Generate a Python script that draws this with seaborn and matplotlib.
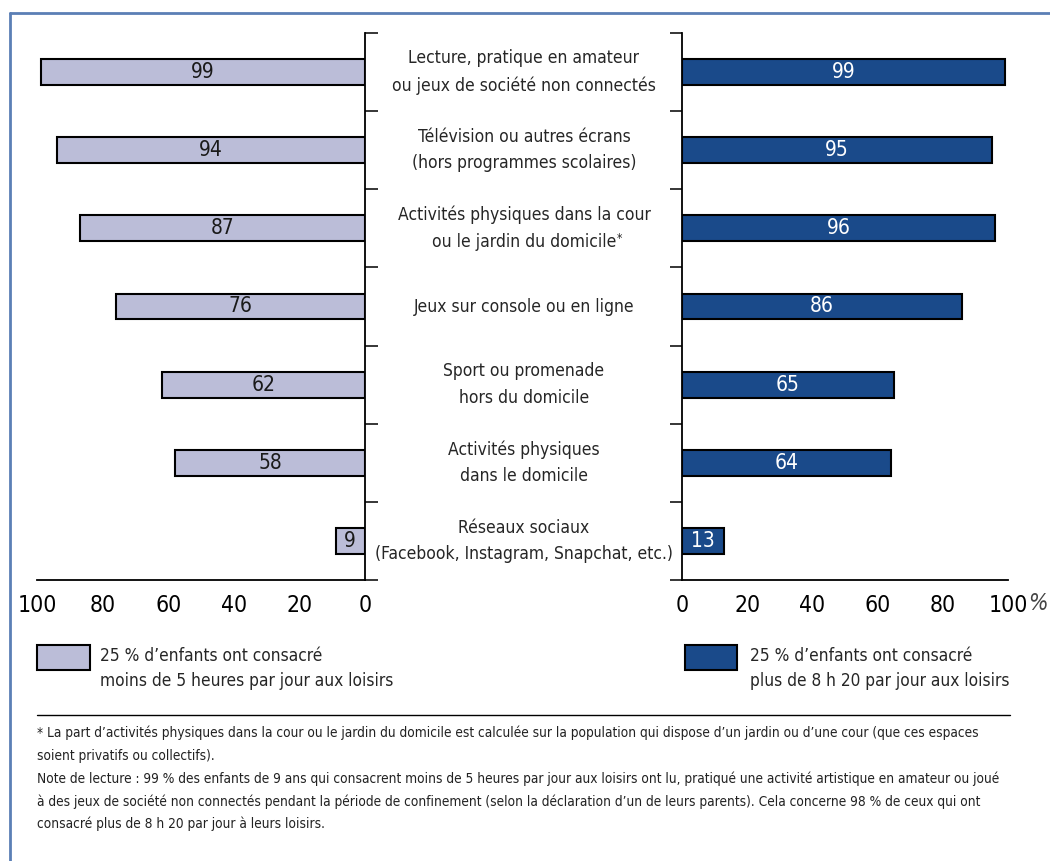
import matplotlib
matplotlib.use("Agg")
import matplotlib.pyplot as plt
import matplotlib.transforms as mtransforms
from matplotlib import font_manager as fm
from matplotlib.patches import Rectangle
from matplotlib.lines import Line2D
import pandas as pd
import seaborn as sns

# Data
categories = [
    "Lecture, pratique en amateur\nou jeux de société non connectés",
    "Télévision ou autres écrans\n(hors programmes scolaires)",
    "Activités physiques dans la cour\nou le jardin du domicile",
    "Jeux sur console ou en ligne",
    "Sport ou promenade\nhors du domicile",
    "Activités physiques\ndans le domicile",
    "Réseaux sociaux\n(Facebook, Instagram, Snapchat, etc.)",
]
starred = 2  # category that carries the footnote mark
low_leisure = [99, 94, 87, 76, 62, 58, 9]
high_leisure = [99, 95, 96, 86, 65, 64, 13]
x_ticks = [0, 20, 40, 60, 80, 100]

legend_low = "25 % d’enfants ont consacré\nmoins de 5 heures par jour aux loisirs"
legend_high = "25 % d’enfants ont consacré\nplus de 8 h 20 par jour aux loisirs"
footnotes = [
    "* La part d’activités physiques dans la cour ou le jardin du domicile est calculée sur la population qui dispose d’un jardin ou d’une cour (que ces espaces",
    "soient privatifs ou collectifs).",
    "Note de lecture : 99 % des enfants de 9 ans qui consacrent moins de 5 heures par jour aux loisirs ont lu, pratiqué une activité artistique en amateur ou joué",
    "à des jeux de société non connectés pendant la période de confinement (selon la déclaration d’un de leurs parents). Cela concerne 98 % de ceux qui ont",
    "consacré plus de 8 h 20 par jour à leurs loisirs.",
]

light_col = "#bbbdd8"
dark_col = "#1a4a8a"

df = pd.DataFrame({"cat": categories, "low": low_leisure, "high": high_leisure})

sns.set_style("white")

# look for a narrow font if one is installed
narrow = None
for f in fm.fontManager.ttflist:
    if f.style != "normal" or f.weight not in (400, "normal", "regular"):
        continue
    if "Narrow" in f.name or "Condensed" in f.name or str(f.stretch) in ("condensed", "semi-condensed", "550", "600"):
        narrow = f
        break
if narrow is not None:
    plt.rcParams["font.family"] = [narrow.name, "DejaVu Sans"]
    plt.rcParams["font.stretch"] = narrow.stretch
else:
    plt.rcParams["font.family"] = ["DejaVu Sans"]

W, H = 1050, 861
fig = plt.figure(figsize=(W / 100, H / 100), dpi=100)
renderer = fig.canvas.get_renderer()


def box(x0, x1, y0, y1):
    return [x0 / W, 1 - y1 / H, (x1 - x0) / W, (y1 - y0) / H]


def fit(texts, width):
    # shrink a group of texts so the widest one is `width` pixels
    widest = max(t.get_window_extent(renderer).width for t in texts)
    for t in texts:
        t.set_fontsize(t.get_fontsize() * width / widest)


ax_l = fig.add_axes(box(37.4, 365, 33, 580))
ax_r = fig.add_axes(box(682, 1008, 33, 580))

sns.barplot(data=df, x="low", y="cat", ax=ax_l, color=light_col, width=0.33,
            edgecolor="black", linewidth=1.5, saturation=1)
sns.barplot(data=df, x="high", y="cat", ax=ax_r, color=dark_col, width=0.33,
            edgecolor="black", linewidth=1.5, saturation=1)

ax_l.bar_label(ax_l.containers[0], label_type="center", fontsize=15, color="#1a1a1a")
ax_r.bar_label(ax_r.containers[0], label_type="center", fontsize=15, color="white")

ax_l.set_xlim(100, 0)
ax_r.set_xlim(0, 100)

n = len(categories)
for ax, side in [(ax_l, "right"), (ax_r, "left")]:
    ax.set_ylim(n - 0.5, -0.5)
    ax.set_xlabel("")
    ax.set_ylabel("")
    for s in ax.spines.values():
        s.set_visible(False)
    ax.spines[side].set_visible(True)
    ax.spines["bottom"].set_visible(True)
    for s in [ax.spines[side], ax.spines["bottom"]]:
        s.set_color("black")
        s.set_linewidth(1.3)
    ax.yaxis.set_ticks_position(side)
    ax.set_yticks([i - 0.5 for i in range(n + 1)])
    ax.set_yticklabels([])
    ax.tick_params(axis="y", direction="out", length=9, width=1.1, color="black")
    ax.set_xticks(x_ticks)
    ax.tick_params(axis="x", direction="out", length=6, width=1.1, color="black",
                   labelsize=16.5, pad=4, labelcolor="black")

ax_r.text(1038 / W, 1 - 592 / H, "%", transform=fig.transFigure, fontsize=16.5,
          fontstyle="italic", ha="center", va="top", color="#444444")

# category labels in the middle
trans = mtransforms.blended_transform_factory(fig.transFigure, ax_l.transData)
cat_texts = []
for i, c in enumerate(categories):
    cat_texts.append(ax_l.text(524 / W, i, c, transform=trans, ha="center", va="center",
                               fontsize=14.5, linespacing=1.6, clip_on=False))
fit(cat_texts, 296)

# footnote mark after the second line of the starred label
lab = cat_texts[starred]
bb = lab.get_window_extent(renderer)
probe = fig.text(0, 0, categories[starred].split("\n")[-1], fontsize=lab.get_fontsize())
w2 = probe.get_window_extent(renderer).width
probe.remove()
fig.text((524 + w2 / 2 + 1) / W, (bb.y0 + bb.height * 0.42) / H, "*",
         fontsize=lab.get_fontsize() * 0.7, ha="left", va="top", color="#222222")

# legends
fig.add_artist(Rectangle((37 / W, 1 - 670 / H), 53 / W, 25 / H, transform=fig.transFigure,
                         facecolor=light_col, edgecolor="black", linewidth=1.5))
t1 = fig.text(100 / W, 1 - 668.5 / H, legend_low, fontsize=14.5, ha="left", va="center",
              linespacing=1.45)
fig.add_artist(Rectangle((685 / W, 1 - 670 / H), 52 / W, 25 / H, transform=fig.transFigure,
                         facecolor=dark_col, edgecolor="black", linewidth=1.5))
t2 = fig.text(750 / W, 1 - 668.5 / H, legend_high, fontsize=14.5, ha="left", va="center",
              linespacing=1.45)
fit([t1], 292)
t2.set_fontsize(t1.get_fontsize())

# separator and footnotes
fig.add_artist(Line2D([37 / W, 1010 / W], [1 - 715 / H, 1 - 715 / H],
                      transform=fig.transFigure, color="black", linewidth=1))
ys = [733, 756, 779, 802, 824]
notes = []
for y, t in zip(ys, footnotes):
    notes.append(fig.text(37 / W, 1 - y / H, t, fontsize=10.5, ha="left", va="center",
                          color="#222222"))
fit(notes, 972)

# frame
frame_col = "#5b7fb5"
fig.add_artist(Line2D([10 / W, 1], [1 - 13 / H, 1 - 13 / H], transform=fig.transFigure,
                      color=frame_col, linewidth=2))
fig.add_artist(Line2D([10 / W, 10 / W], [0, 1 - 13 / H], transform=fig.transFigure,
                      color=frame_col, linewidth=2))

fig.savefig("out.png", dpi=100)
